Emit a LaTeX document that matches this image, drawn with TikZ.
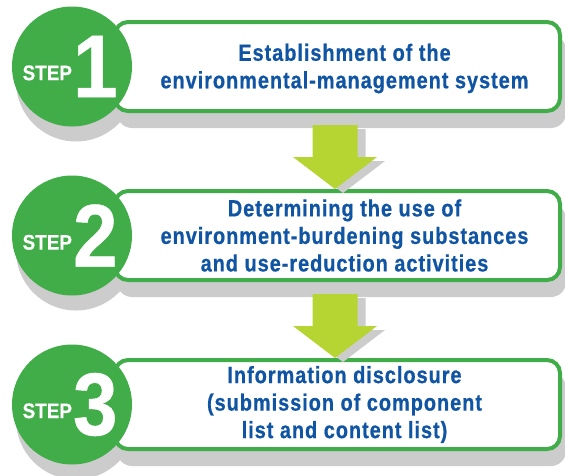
\documentclass[tikz,border=0pt]{standalone}
\usepackage{fontspec}
\setmainfont{Liberation Sans}
\newfontfamily\narrowfont{Liberation Sans}[FakeStretch=0.85,LetterSpace=4,FakeBold=0.6]
\newfontfamily\stepfontfam{Liberation Sans}[FakeStretch=0.9,FakeBold=0.5]
\usepackage{tikz}
\usetikzlibrary{positioning, backgrounds}
\definecolor{stepgreen}{RGB}{65,173,73}
\definecolor{arrowlime}{RGB}{182,212,50}
\definecolor{shadowgrey}{RGB}{204,204,204}
\definecolor{textblue}{RGB}{16,84,164}
\newcommand{\stepno}[1]{\makebox[0pt][r]{\raisebox{17pt}{\stepfontfam\bfseries\fontsize{21}{21}\selectfont STEP}}\makebox[0pt][l]{\kern1pt\stepfontfam\bfseries\fontsize{89}{89}\selectfont #1}}
\tikzset{
x=1pt, y=1pt, % coordinates in points
node distance=169pt, % distance between two steps
stepbox/.style={draw=stepgreen, line width=4pt, fill=white, rounded corners=13pt, minimum width=445pt, minimum height=89pt, inner sep=0pt, outer sep=0pt}, % the frame of each step
stepdisc/.style={circle, fill=stepgreen, minimum size=120pt, inner sep=0pt, text=white, node distance=265.5pt}, % the green disc with the number
steptext/.style={text=textblue, font=\narrowfont\bfseries\fontsize{23.5}{27.5}\selectfont, align=center}, % text inside the frames
shadowfill/.style={fill=shadowgrey}, % grey drop shadows
blockarrow/.pic={
  \fill[shadowfill, shift={(8,-4)}] (0,0) -- (-42,32) -- (-22.5,32) -- (-22.5,64) -- (22.5,64) -- (22.5,32) -- (42,32) -- cycle;
  \fill[arrowlime] (0,0) -- (-42,32) -- (-22.5,32) -- (-22.5,64) -- (22.5,64) -- (22.5,32) -- (42,32) -- cycle;
}, % big arrow between the steps
}

\begin{document}
\begin{tikzpicture}
\useasboundingbox (0,0) rectangle (565,-475);
\node[stepbox] (box1) at (337.5,-66.5) {};
\node[stepbox, below of=box1] (box2) {};
\node[stepbox, below of=box2] (box3) {};
\node[steptext] (label1) at ([xshift=7pt, yshift=-2pt]box1.center) {Establishment of the\\environmental-management system};
\node[steptext] (label2) at ([xshift=7pt]box2.center) {Determining the use of\\environment-burdening substances\\and use-reduction activities};
\node[steptext] (label3) at ([xshift=7pt]box3.center) {Information disclosure\\(submission of component\\list and content list)};
\node[stepdisc, left of=box1] (disc1) {\stepno{1}};
\node[stepdisc, left of=box2] (disc2) {\stepno{2}};
\node[stepdisc, left of=box3] (disc3) {\stepno{3}};
\pic at ([xshift=-2.5pt, yshift=2pt]box2.north) {blockarrow};
\pic at ([xshift=-2.5pt, yshift=2pt]box3.north) {blockarrow};
\begin{scope}[on background layer]
\foreach \n in {1,2,3} {
  \fill[shadowfill] ([shift={(4,-15)}]disc\n.center) circle (60);
  \fill[shadowfill, rounded corners=15pt] ([shift={(2,-17)}]box\n.south west) rectangle ([shift={(6,-13)}]box\n.north east);
}
\end{scope}
\end{tikzpicture}
\end{document}
